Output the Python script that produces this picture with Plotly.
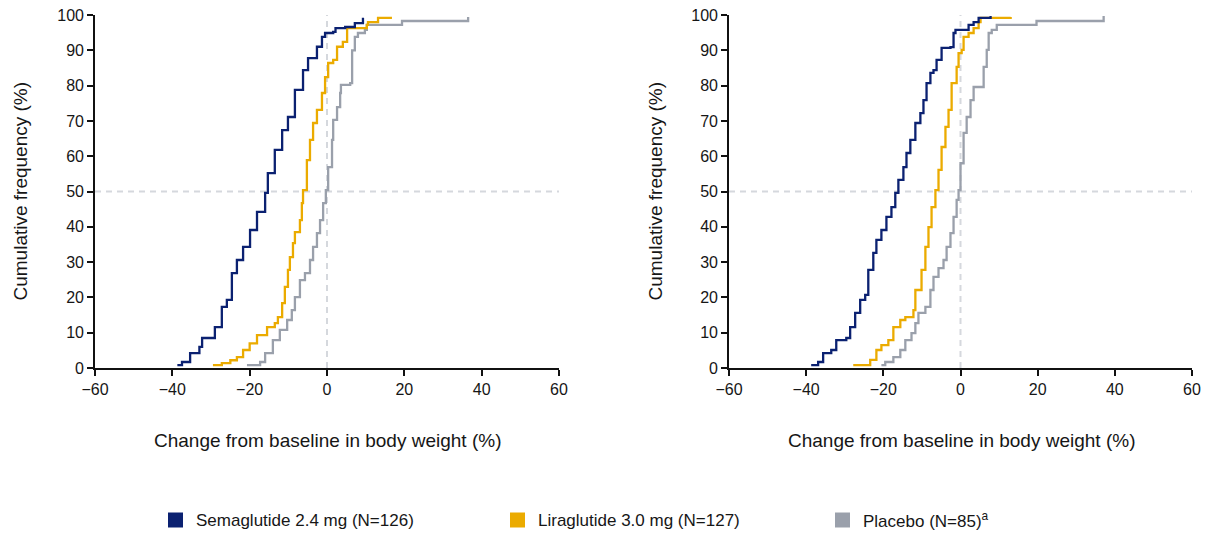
import plotly.graph_objects as go

# Cumulative distribution of change from baseline in body weight (%)
# Left panel
sema_left_change = [-38.7, -37.5, -35.4, -33.0, -32.3, -29.0, -27.2, -25.9, -24.6, -23.3, -21.7, -19.9,
                    -18.1, -16.0, -15.3, -13.5, -11.6, -10.1, -8.3, -6.2, -4.9, -2.6, -1.3, -0.5, 1.6,
                    2.2, 4.7, 7.2, 9.3]
sema_left_pct = [0.8, 1.7, 4.2, 6.0, 8.5, 11.6, 17.3, 19.3, 26.9, 30.6, 34.3, 39.1, 44.2, 49.6, 55.2,
                 61.8, 67.4, 71.1, 78.8, 84.4, 87.8, 91.0, 93.8, 94.9, 95.2, 96.3, 96.6, 97.7, 99.2]

lira_left_change = [-29.5, -27.2, -25.0, -23.3, -21.7, -20.0, -18.1, -15.5, -13.5, -12.7, -11.6, -10.9,
                    -10.1, -9.6, -8.8, -8.3, -7.0, -6.5, -6.2, -5.2, -4.4, -3.6, -2.6, -1.3, -0.5, 0.3,
                    1.6, 2.6, 4.1, 5.2, 10.3, 10.6, 13.2, 16.8]
lira_left_pct = [0.8, 1.4, 2.2, 3.1, 5.1, 7.0, 9.3, 11.6, 12.7, 14.4, 18.4, 23.0, 27.8, 31.4, 35.4,
                 38.5, 41.9, 46.7, 50.4, 58.9, 64.6, 69.4, 73.1, 77.9, 82.4, 86.4, 87.3, 91.0, 92.4,
                 96.3, 97.2, 98.0, 99.2, 99.2]

pbo_left_change = [-20.7, -17.3, -16.0, -14.0, -12.2, -10.3, -9.1, -8.3, -7.0, -5.7, -4.4, -3.6, -2.6,
                   -1.8, -1.0, -0.3, 0.3, 1.3, 1.6, 2.6, 3.4, 3.6, 6.0, 6.5, 7.2, 8.0, 9.8, 10.3, 19.4,
                   36.5, 36.5]
pbo_left_pct = [0.8, 1.7, 4.2, 7.9, 10.8, 13.6, 16.4, 20.1, 24.9, 26.9, 30.6, 34.3, 38.2, 41.9, 46.7,
                50.4, 56.9, 64.6, 70.3, 73.9, 77.9, 80.2, 80.7, 90.0, 93.8, 94.9, 95.8, 97.2, 98.3,
                98.3, 99.4]

# Right panel
sema_right_change = [-38.7, -36.9, -35.6, -33.5, -32.2, -29.6, -28.6, -27.3, -26.0, -24.7, -23.9, -22.6,
                     -21.8, -20.5, -19.2, -17.9, -16.9, -16.1, -14.8, -14.0, -13.0, -11.7, -10.4, -9.6,
                     -8.8, -7.8, -7.0, -6.2, -4.9, -2.6, -1.8, -1.3, 2.1, 3.4, 4.7, 7.8]
sema_right_pct = [0.8, 1.7, 4.2, 5.1, 7.9, 8.5, 11.6, 15.6, 19.3, 20.7, 27.8, 32.6, 36.3, 39.1, 42.8,
                  45.6, 49.6, 53.3, 56.9, 60.9, 64.6, 69.4, 72.2, 75.9, 80.7, 83.6, 84.4, 87.3, 90.7,
                  90.9, 94.9, 95.8, 97.2, 98.0, 99.2, 99.7]

lira_right_change = [-27.8, -23.4, -21.8, -20.5, -18.7, -17.4, -15.6, -14.3, -12.2, -11.7, -10.1, -9.1,
                     -8.3, -7.5, -6.5, -5.7, -4.9, -3.9, -3.1, -2.3, -1.0, -0.5, 0.3, 0.8, 2.1, 3.4,
                     4.7, 5.2, 13.0]
lira_right_pct = [0.8, 2.3, 5.1, 6.5, 7.9, 11.6, 13.6, 14.4, 16.4, 22.1, 27.8, 34.3, 39.9, 45.6, 50.4,
                  56.1, 62.6, 68.3, 73.1, 80.7, 85.3, 89.2, 90.1, 93.8, 94.9, 96.3, 98.0, 99.2, 99.4]

pbo_right_change = [-20.5, -19.5, -17.4, -15.6, -14.3, -12.7, -11.7, -10.9, -9.1, -7.8, -7.0, -5.7,
                    -4.4, -3.6, -2.6, -1.8, -1.0, -0.5, 0.0, 0.8, 1.6, 2.6, 3.4, 6.0, 6.8, 7.3, 8.1,
                    9.4, 19.7, 37.1, 37.1]
pbo_right_pct = [0.8, 1.7, 3.1, 5.1, 7.9, 9.9, 12.7, 15.6, 17.3, 22.1, 25.8, 28.3, 30.6, 34.3, 38.2,
                 42.8, 47.6, 50.4, 58.0, 66.6, 71.1, 75.9, 79.6, 85.3, 90.1, 94.9, 95.8, 97.2, 98.3,
                 98.3, 99.7]

series_names = ["Semaglutide 2.4 mg (N=126)", "Liraglutide 3.0 mg (N=127)", "Placebo (N=85)<sup>a</sup>"]
x_ticks = [-60, -40, -20, 0, 20, 40, 60]
y_ticks = [0, 10, 20, 30, 40, 50, 60, 70, 80, 90, 100]

NAVY = "#0b2171"
GOLD = "#ebab00"
GREY = "#9aa0ab"
REF = "#d5d8dd"
TEXT = "#161616"
FONT = "Liberation Sans, Arial, sans-serif"

fig = go.Figure()

panels = [
    ("x", "y", [(sema_left_change, sema_left_pct, NAVY),
                (lira_left_change, lira_left_pct, GOLD),
                (pbo_left_change, pbo_left_pct, GREY)]),
    ("x2", "y2", [(sema_right_change, sema_right_pct, NAVY),
                  (lira_right_change, lira_right_pct, GOLD),
                  (pbo_right_change, pbo_right_pct, GREY)]),
]

# reference lines under the curves
for xa, ya, _ in panels:
    fig.add_shape(type="line", xref=xa, yref=ya, x0=0, x1=0, y0=0, y1=100,
                  line=dict(color=REF, width=2, dash="6px,5px"), layer="below")
    fig.add_shape(type="line", xref=xa, yref=ya, x0=-60, x1=60, y0=50, y1=50,
                  line=dict(color=REF, width=2, dash="6px,5px"), layer="below")

# draw order: placebo, liraglutide, semaglutide on top
for xa, ya, curves in panels:
    for xs, ys, col in reversed(curves):
        fig.add_trace(go.Scatter(x=xs, y=ys, xaxis=xa, yaxis=ya, mode="lines",
                                 line=dict(color=col, width=2.3, shape="hv"),
                                 showlegend=False, hoverinfo="skip"))

axis_common = dict(showline=True, linecolor="#111111", linewidth=1.6, ticks="outside",
                   ticklen=6, tickwidth=1.6, tickcolor="#111111", showgrid=False, zeroline=False,
                   automargin=False,
                   tickfont=dict(family=FONT, size=16, color=TEXT))

left_dom = [0, 464 / 1097]
right_dom = [634 / 1097, 1]

fig.update_layout(
    width=1210, height=534,
    margin=dict(l=95, r=18, t=15, b=166),
    paper_bgcolor="white", plot_bgcolor="white",
    font=dict(family=FONT, color=TEXT),
    xaxis=dict(domain=left_dom, range=[-60, 60], tickvals=x_ticks, anchor="y", **axis_common),
    yaxis=dict(domain=[0, 1], range=[0, 100], tickvals=y_ticks, anchor="x", **axis_common),
    xaxis2=dict(domain=right_dom, range=[-60, 60], tickvals=x_ticks, anchor="y2", **axis_common),
    yaxis2=dict(domain=[0, 1], range=[0, 100], tickvals=y_ticks, anchor="x2", **axis_common),
    showlegend=False,
)

annotations = []
# axis titles
for xc, yt in [((327 - 95) / 1097, (20 - 95) / 1097), ((961 - 95) / 1097, (655 - 95) / 1097)]:
    annotations.append(dict(text="Change from baseline in body weight (%)", xref="paper", yref="paper",
                            x=xc, y=(368 - 440) / 353, xanchor="center", yanchor="middle",
                            showarrow=False, font=dict(family=FONT, size=19, color=TEXT)))
    annotations.append(dict(text="Cumulative frequency (%)", xref="paper", yref="paper",
                            x=yt, y=0.5, xanchor="center", yanchor="middle", textangle=-90,
                            showarrow=False, font=dict(family=FONT, size=19, color=TEXT)))

# legend row
legend_x = [168, 510, 835]
legend_cols = [NAVY, GOLD, GREY]
ly = (368 - 520) / 353
for px, name, col in zip(legend_x, series_names, legend_cols):
    x0 = (px - 95) / 1097
    x1 = (px + 15 - 95) / 1097
    fig.add_shape(type="rect", xref="paper", yref="paper", x0=x0, x1=x1,
                  y0=ly - 7.5 / 353, y1=ly + 7.5 / 353, fillcolor=col, line=dict(width=0))
    annotations.append(dict(text=name, xref="paper", yref="paper", x=(px + 26 - 95) / 1097, y=ly,
                            xanchor="left", yanchor="middle", showarrow=False,
                            font=dict(family=FONT, size=17, color=TEXT)))

fig.update_layout(annotations=annotations)

fig.write_html("out.html")
